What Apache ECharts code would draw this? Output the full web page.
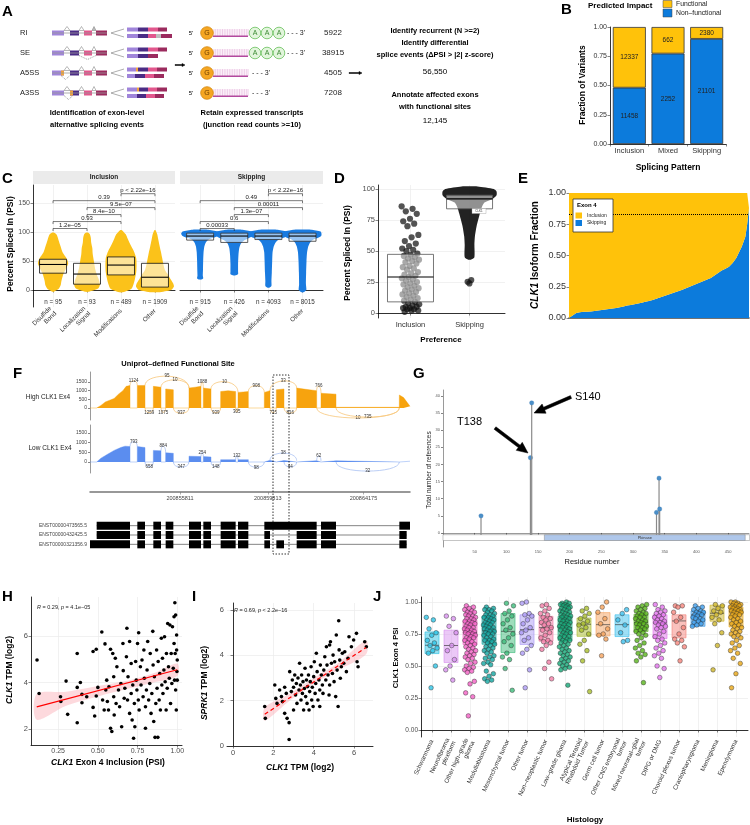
<!DOCTYPE html>
<html><head><meta charset="utf-8">
<script src="https://cdn.jsdelivr.net/npm/echarts@6.0.0/dist/echarts.min.js"></script>
<style>html,body{margin:0;padding:0;background:#fff}#c{width:750px;height:825px}</style>
</head><body><div id="c"></div>
<script>
// ================= DATA =================
// A
const eventTypes = ['RI','SE','A5SS','A3SS'];
const eventCounts = ['5922','38915','4505','7208'];
const recurrentTotal = '56,550';
const functionalTotal = '12,145';
// B
const patterns = ['Inclusion','Mixed','Skipping'];
const functionalCounts = [12337, 662, 2380];
const nonFunctionalCounts = [11458, 2252, 21101];
// C
const siteCats = ['Disulfide\nBond','Localization\nSignal','Modifications','Other'];
const inclN = [95, 93, 489, 1909];
const skipN = [915, 426, 4093, 8015];
const inclBox = [[29,44,53],[10,27.5,46],[26,43,57],[5,22,46]];
const skipBox = [[86,93,98],[82,93,98],[87,93,98],[84,93,98]];
const inclDensity = [
  [[-3,0.05],[2,0.3],[8,0.4],[17,0.45],[28,0.55],[38,0.7],[46,0.8],[55,0.7],[65,0.5],[75,0.4],[85,0.3],[95,0.2],[99,0.05]],
  [[-3,0.1],[3,0.6],[10,0.68],[18,0.62],[28,0.5],[38,0.42],[50,0.36],[62,0.3],[72,0.28],[82,0.22],[90,0.2],[96,0.15],[99,0.05]],
  [[-4,0.1],[2,0.55],[10,0.66],[20,0.74],[30,0.8],[42,0.82],[55,0.8],[68,0.66],[78,0.5],[88,0.36],[96,0.25],[103,0.05]],
  [[-4,0.2],[0,0.85],[6,1.0],[12,0.95],[20,0.8],[26,0.7],[35,0.52],[45,0.44],[55,0.38],[65,0.32],[75,0.25],[86,0.18],[96,0.12],[103,0.03]]
];
const skipDensity = [
  [[18,0.04],[20,0.16],[25,0.14],[35,0.15],[50,0.16],[65,0.18],[75,0.22],[82,0.3],[87,0.45],[90,0.7],[93,0.92],[97,1.0],[101,0.92],[104,0.4]],
  [[25,0.04],[27,0.2],[32,0.2],[45,0.2],[60,0.22],[72,0.26],[80,0.35],[85,0.5],[89,0.75],[93,0.95],[97,1.0],[101,0.92],[104,0.4]],
  [[4,0.04],[7,0.16],[15,0.16],[30,0.18],[50,0.2],[65,0.22],[75,0.28],[82,0.38],[87,0.55],[90,0.8],[93,0.98],[97,1.0],[101,0.95],[104,0.45]],
  [[-4,0.05],[0,0.2],[10,0.18],[30,0.19],[50,0.21],[65,0.24],[75,0.3],[82,0.4],[87,0.58],[90,0.82],[93,0.98],[97,1.0],[101,0.95],[104,0.45]]
];
const inclBrackets = [[1,2,'1.2e\u221205'],[1,3,'0.93'],[2,3,'8.4e\u221210'],[2,4,'9.5e\u221207'],[1,4,'0.39'],[3,4,'p < 2.22e\u221216']];
const skipBrackets = [[1,2,'0.00033'],[1,3,'0.6'],[2,3,'1.3e\u221207'],[2,4,'0.00011'],[1,4,'0.49'],[3,4,'p < 2.22e\u221216']];
const bracketLevels = [106, 118, 130, 142, 154, 166];
// D
const prefCats = ['Inclusion','Skipping'];
const dInclPSI = [86,84,82,80,76,74,72,70,63,61,58,56,54,52,51,50,48,47,46,45,44,43,42,41,40,38,37,36,35,33,32,31,30,29,28,27,26,25,24,23,22,21,20,19,18,17,16,15,14,13,12,11,10,9,8,7,6,5,5,4,4,3,3,2,2,1];
const dInclBox = [9, 29, 47.3];
const dSkipBox = [84, 92, 95];
const dSkipDensity = [[43,0.05],[45,0.18],[55,0.18],[62,0.2],[70,0.26],[76,0.33],[80,0.38],[85,0.45],[89,0.55],[92,0.85],[95,1.0],[98,1.0],[100,0.9],[102,0.3]];
const dSkipTail = [26.6, 23.9, 25.2];
// E
const eSkipFrac = [0,0.01,0.02,0.03,0.04,0.045,0.047,0.048,0.05,0.05,0.051,0.052,0.053,0.055,0.057,0.058,0.06,0.062,0.064,0.066,
  0.068,0.07,0.072,0.074,0.076,0.078,0.08,0.083,0.086,0.09,0.093,0.096,0.1,0.102,0.105,0.108,0.11,0.113,0.116,0.12,
  0.123,0.126,0.13,0.133,0.137,0.14,0.145,0.15,0.155,0.16,0.165,0.17,0.175,0.18,0.185,0.19,0.195,0.2,0.205,0.21,
  0.215,0.22,0.225,0.23,0.236,0.242,0.248,0.254,0.26,0.266,0.272,0.278,0.284,0.29,0.296,0.302,0.308,0.314,0.32,0.33,
  0.34,0.35,0.36,0.37,0.38,0.39,0.395,0.4,0.41,0.425,0.44,0.46,0.48,0.51,0.54,0.57,0.61,0.65,0.75,0.88];
const eThreshold = 0.83;
// F (genomic offsets from fBase)
const fBase = 200851707;
const fSpan = 14592;
const fTicks = [200855811, 200859813, 200864175];
const fHighCov = [[0,0],[304,0],[500,150],[700,350],[900,450],[1100,550],[1300,800],[1500,1000],[1650,1250],[1824,1300],[1825,0],[2157,0],[2158,1300],[2508,1300],[2509,0],[2887,0],[2888,1250],[3238,1200],[3239,0],[3449,0],[3450,1100],[3800,1050],[3801,0],[4513,0],[4514,1150],[4800,1200],[5062,1250],[5063,0],[5167,0],[5168,1150],[5518,1100],[5519,0],[5957,0],[5958,950],[6300,1000],[6642,950],[6643,0],[6748,0],[6749,900],[7220,950],[7221,0],[7949,0],[7950,900],[8208,1000],[8209,0],[8496,0],[8497,1050],[8846,1100],[8847,0],[9423,0],[9424,1150],[10000,1050],[10336,1000],[10337,0],[10533,0],[10534,850],[11218,800],[11219,40],[14105,40],[14106,750],[14300,600],[14592,100]];
const fLowCov = [[0,0],[304,0],[500,200],[800,400],[1100,600],[1400,750],[1600,820],[1824,800],[1825,0],[2157,0],[2158,800],[2508,750],[2509,0],[2887,0],[2888,600],[3238,580],[3239,0],[3449,0],[3450,480],[3800,450],[3801,0],[4513,0],[4514,300],[5062,280],[5063,0],[5167,0],[5168,280],[5518,260],[5519,0],[5957,0],[5958,120],[6642,120],[6643,0],[6748,0],[6749,120],[7220,120],[7221,0],[7949,0],[7950,90],[8208,90],[8209,0],[8496,0],[8497,80],[8846,80],[8847,0],[9423,0],[9424,70],[10336,70],[10337,0],[10533,0],[10534,60],[11218,60],[11219,0],[14105,0],[14106,50],[14592,40]];
const fHighJunctions = [[1824,2158,1124,1],[2508,4514,95,1],[3238,4514,10,1],[5062,5168,1088,1],[5518,6749,10,1],[7220,7950,908,1],[8208,9424,33,1],[10336,10534,766,1],
  [2508,2888,1259,-1],[3238,3450,1075,-1],[3800,4514,937,-1],[5518,5958,939,-1],[6642,6749,305,-1],[8208,8497,715,-1],[8846,9424,816,-1],[10336,14106,10,-1],[11218,14106,735,-1]];
const fLowJunctions = [[1824,2158,793,1],[2508,2888,658,-1],[3238,3450,884,1],[3800,4514,347,-1],[5062,5168,254,1],[5518,5958,148,-1],[6642,6749,132,1],[7220,7950,98,-1],[8208,9424,38,1],[8846,9424,44,-1],[10336,10534,62,1],[11218,14106,32,-1]];
const fTranscripts = ['ENST00000473565.5','ENST00000432425.5','ENST00000321356.9'];
const tx473565Exons = [[304,1824],[2158,2508],[2888,3238],[3450,3800],[4514,5062],[5168,5518],[5958,6642],[6749,7220],[7950,10336],[10534,11218],[14106,14592]];
const tx432425Exons = [[304,1824],[2158,2508],[2888,3238],[3450,3800],[4514,5062],[5168,5518],[5958,6642],[6749,7220],[7950,8208],[9424,10336],[10534,11218],[14106,14440]];
const tx321356Exons = [[0,1824],[2158,2508],[2888,3238],[3450,3800],[4514,5062],[5168,5518],[5958,6642],[6749,7220],[7950,8208],[8497,8846],[9424,10336],[10534,11218],[14106,14440]];
// G
const residues = [60, 138, 140, 337, 341, 342];
const refCounts = [5, 22, 38, 6, 16, 7];
const proteinLength = 484;
const kinaseDomain = [160, 477];
// H
const hPoints = [[0.117,4.97],[0.13,3.53],[0.265,3.39],[0.267,3.18],[0.30,4.06],[0.31,2.63],[0.37,5.25],[0.37,2.27],[0.37,3.79],[0.39,4.0],[0.40,3.49],[0.40,3.13],[0.43,3.39],[0.47,5.33],[0.47,2.93],[0.48,2.56],[0.49,5.43],[0.49,3.42],[0.50,3.79],[0.525,6.17],[0.53,3.25],[0.54,2.82],[0.545,5.66],[0.55,3.68],[0.556,4.1],[0.56,3.18],[0.567,2.82],[0.57,3.82],[0.58,5.43],[0.58,2.03],[0.588,1.89],[0.594,5.25],[0.6,3.39],[0.6,4.25],[0.603,2.6],[0.61,5.04],[0.615,3.1],[0.62,4.68],[0.63,3.68],[0.637,2.96],[0.645,3.96],[0.65,2.1],[0.658,5.68],[0.66,4.51],[0.666,3.32],[0.67,3.75],[0.68,5.11],[0.683,6.33],[0.687,3.25],[0.69,4.25],[0.70,2.67],[0.70,5.76],[0.71,3.53],[0.71,4.82],[0.716,2.39],[0.72,3.89],[0.725,1.6],[0.73,3.1],[0.733,2.1],[0.738,4.9],[0.742,4.1],[0.746,3.68],[0.75,5.68],[0.755,3.25],[0.757,6.14],[0.76,2.82],[0.768,4.68],[0.772,3.89],[0.778,4.97],[0.785,3.39],[0.79,5.4],[0.793,4.18],[0.8,2.96],[0.80,2.03],[0.806,3.68],[0.81,4.54],[0.814,5.76],[0.82,3.25],[0.827,3.96],[0.83,5.25],[0.835,2.67],[0.84,3.53],[0.846,6.2],[0.848,4.75],[0.852,2.32],[0.856,4.25],[0.86,1.64],[0.865,3.1],[0.87,5.4],[0.873,3.75],[0.878,1.64],[0.88,4.9],[0.886,3.25],[0.89,4.39],[0.894,2.82],[0.9,5.9],[0.903,3.89],[0.907,5.04],[0.91,3.53],[0.916,4.54],[0.92,5.97],[0.924,4.03],[0.93,2.82],[0.932,5.25],[0.937,3.75],[0.94,6.54],[0.945,4.68],[0.95,4.18],[0.954,6.47],[0.958,3.1],[0.962,5.25],[0.966,3.96],[0.97,6.4],[0.975,4.61],[0.98,5.68],[0.98,6.83],[0.983,4.1],[0.985,7.43],[0.987,5.25],[0.99,6.9],[0.99,3.68],[0.994,2.82],[0.996,6.04],[0.998,4.47],[1.0,4.97],[1.0,4.1],[0.996,5.4]];
const hFit = [[0.115,2.95],[1.0,4.55]];
const hCIx = [0.115,0.3,0.5,0.7,0.85,1.0];
const hCIlo = [2.4,3.0,3.4,3.75,4.0,4.28];
const hCIhi = [3.5,3.6,3.85,4.1,4.4,4.82];
// I
const iPoints = [[1.57,1.74],[1.6,1.22],[2.07,2.69],[2.12,2.1],[2.18,1.88],[2.31,2.47],[2.4,2.18],[2.45,1.96],[2.56,2.59],[2.56,1.44],[2.64,2.32],[2.68,1.22],[2.78,1.03],[2.78,0.29],[2.81,3.28],[2.89,2.4],[2.94,2.91],[3.0,2.59],[3.0,1.59],[3.06,3.13],[3.1,2.25],[3.14,2.76],[3.17,1.88],[3.22,3.0],[3.27,2.47],[3.3,3.65],[3.34,2.69],[3.37,2.03],[3.4,3.13],[3.44,2.32],[3.47,2.84],[3.5,1.59],[3.54,2.54],[3.57,3.43],[3.6,2.18],[3.64,2.91],[3.67,1.88],[3.7,2.62],[3.74,3.13],[3.77,1.59],[3.8,2.4],[3.83,2.84],[3.87,3.5],[3.9,2.03],[3.93,2.59],[3.97,1.74],[4.0,3.06],[4.03,3.72],[4.07,2.32],[4.1,2.76],[4.13,4.09],[4.17,3.28],[4.21,2.03],[4.26,2.91],[4.3,2.47],[4.3,1.74],[4.33,3.57],[4.38,3.13],[4.43,2.69],[4.46,2.32],[4.5,3.35],[4.55,3.94],[4.6,2.91],[4.63,4.38],[4.66,3.57],[4.71,3.13],[4.76,2.25],[4.79,2.69],[4.79,4.46],[4.83,4.6],[4.88,3.65],[4.93,3.2],[4.96,4.01],[5.01,2.84],[5.04,3.72],[5.09,2.18],[5.12,4.9],[5.16,3.35],[5.21,1.74],[5.24,5.53],[5.26,4.24],[5.29,3.79],[5.32,2.99],[5.37,3.5],[5.42,4.09],[5.49,3.65],[5.54,4.16],[5.62,3.28],[5.7,3.87],[5.75,4.82],[5.87,4.38],[5.98,4.68],[6.12,4.97],[6.15,3.72],[6.2,3.5],[6.53,4.6],[6.61,4.38]];
const iFit = [[1.57,1.4],[6.6,4.35]];
const iCIx = [1.57,2.8,4.0,5.2,6.6];
const iCIlo = [1.12,2.0,2.75,3.35,4.05];
const iCIhi = [1.7,2.3,3.0,3.65,4.65];
// J
const jCats = ['Schwannoma','Neurofibroma\nplexiform','Other high\u2013grade\nglioma','Medulloblastoma','Mesenchymal tumor','Other tumor','Non\u2013neoplastic tumor','Low\u2013grade glioma','Atypical Teratoid\nRhabdoid Tumor','Germ cell tumor','Other CNS embryonal\ntumor','Mixed neuronal\u2013glial\ntumor','DIPG or DMG','Choroid plexus tumor','Craniopharyngioma','Meningioma','Ependymoma'];
const jQ1 = [0.597,0.527,0.668,0.67,0.605,0.668,0.694,0.70,0.732,0.735,0.73,0.77,0.714,0.72,0.81,0.85,0.805];
const jMed = [0.662,0.66,0.761,0.774,0.771,0.784,0.80,0.80,0.826,0.823,0.823,0.84,0.836,0.852,0.90,0.912,0.927];
const jQ3 = [0.766,0.78,0.857,0.89,0.91,0.90,0.888,0.888,0.875,0.917,0.90,0.905,0.90,0.90,0.93,0.975,0.96];
const jColors = ['#2EC4E6','#D891EF','#F25FC4','#10A5A0','#3DBB7A','#AC9BF5','#F27DA6','#14A777','#A9BE2C','#F5A25D','#3EC1EE','#58B31A','#E274EC','#F6847C','#3C9CEB','#CDB52A','#E7A514'];
const jValues = [
  [0.88,0.86,0.79,0.76,0.74,0.70,0.68,0.66,0.64,0.62,0.60,0.50,0.33],
  [0.89,0.87,0.81,0.76,0.66,0.62,0.55,0.50,0.47,0.39],
  [0.97,0.96,0.95,0.94,0.93,0.92,0.92,0.91,0.90,0.89,0.89,0.88,0.87,0.87,0.86,0.85,0.85,0.84,0.83,0.83,0.82,0.81,0.80,0.80,0.79,0.78,0.78,0.77,0.76,0.76,0.75,0.75,0.74,0.73,0.72,0.72,0.71,0.70,0.69,0.68,0.67,0.66,0.65,0.64,0.63,0.62,0.61,0.60,0.59,0.58,0.57,0.56,0.55,0.53,0.52,0.50,0.49,0.48,0.47,0.46,0.45,0.38,0.36,0.29,0.26,0.11],
  [0.96,0.95,0.94,0.94,0.93,0.92,0.91,0.90,0.90,0.89,0.88,0.88,0.87,0.86,0.86,0.85,0.84,0.84,0.83,0.82,0.82,0.81,0.80,0.80,0.79,0.78,0.78,0.77,0.77,0.76,0.75,0.75,0.74,0.73,0.72,0.71,0.70,0.70,0.69,0.68,0.67,0.66,0.65,0.64,0.63,0.62,0.61,0.60,0.58,0.57,0.56,0.55,0.53,0.52,0.51,0.46,0.44,0.42,0.40,0.39,0.38],
  [0.99,0.97,0.93,0.91,0.89,0.86,0.83,0.80,0.78,0.75,0.72,0.69,0.66,0.60,0.57,0.55,0.48,0.31],
  [1.0,0.99,0.91,0.90,0.89,0.86,0.83,0.80,0.78,0.76,0.72,0.70,0.66,0.63,0.60,0.47,0.33],
  [0.98,0.97,0.95,0.93,0.91,0.90,0.88,0.87,0.86,0.84,0.83,0.82,0.80,0.79,0.78,0.76,0.74,0.72,0.70,0.69,0.68,0.66,0.63,0.53,0.48,0.40],
  [1.0,0.99,0.99,0.98,0.98,0.97,0.97,0.96,0.96,0.95,0.95,0.94,0.93,0.93,0.92,0.92,0.91,0.90,0.90,0.89,0.89,0.88,0.88,0.87,0.86,0.86,0.85,0.85,0.84,0.83,0.83,0.82,0.82,0.81,0.80,0.80,0.79,0.78,0.78,0.77,0.76,0.76,0.75,0.74,0.73,0.73,0.72,0.71,0.70,0.70,0.69,0.68,0.67,0.66,0.65,0.64,0.63,0.62,0.61,0.60,0.59,0.58,0.57,0.56,0.55,0.54,0.53,0.52,0.51,0.50,0.49,0.48,0.47,0.35],
  [0.95,0.93,0.91,0.89,0.87,0.85,0.83,0.82,0.80,0.78,0.75,0.70,0.67,0.62,0.54,0.30],
  [1.0,0.96,0.92,0.87,0.83,0.79,0.75,0.74,0.71,0.58],
  [0.94,0.91,0.86,0.82,0.76,0.70,0.69],
  [0.98,0.97,0.96,0.95,0.94,0.93,0.92,0.91,0.91,0.90,0.89,0.88,0.88,0.87,0.86,0.85,0.85,0.84,0.83,0.83,0.82,0.81,0.80,0.80,0.79,0.78,0.77,0.76,0.75,0.74,0.72,0.70,0.68,0.66,0.64,0.62,0.60,0.59,0.57,0.54,0.37],
  [0.98,0.96,0.94,0.93,0.92,0.91,0.90,0.89,0.88,0.87,0.86,0.85,0.84,0.84,0.83,0.82,0.81,0.80,0.79,0.77,0.75,0.73,0.71,0.70,0.68,0.66,0.64,0.62,0.60,0.58,0.56,0.50,0.48,0.41],
  [0.97,0.97,0.96,0.92,0.88,0.85,0.80,0.75,0.71,0.70,0.68,0.65,0.54],
  [0.97,0.96,0.95,0.94,0.93,0.92,0.92,0.91,0.90,0.90,0.89,0.88,0.87,0.87,0.86,0.85,0.84,0.83,0.82,0.81],
  [0.98,0.97,0.95,0.93,0.92,0.90,0.88,0.86,0.83,0.76,0.66,0.47],
  [1.0,1.0,0.99,0.99,0.98,0.98,0.97,0.97,0.96,0.96,0.95,0.95,0.94,0.94,0.93,0.93,0.92,0.92,0.91,0.90,0.90,0.89,0.88,0.87,0.86,0.85,0.84,0.83,0.82,0.81,0.80,0.79,0.78,0.77,0.76,0.75,0.74,0.73,0.72,0.70,0.68,0.66,0.64,0.62,0.60,0.56,0.52,0.44,0.33]
];

// ================= HELPERS =================
const F = 'Liberation Sans';
const YEL = '#FFC20A', BLUE = '#0C7BDC';
function rgba(hex, a){ const n=parseInt(hex.slice(1),16); return 'rgba('+(n>>16&255)+','+(n>>8&255)+','+(n&255)+','+a+')'; }
function jit(i){ return ((i*0.6180339887)%1)-0.5; }
function merge(a,b){ for(const k in b){ const v=b[k]; if(v && typeof v==='object' && !Array.isArray(v) && typeof v!=='function' && a[k] && typeof a[k]==='object' && !Array.isArray(a[k])) merge(a[k],v); else a[k]=v; } return a; }
function axis(type, gi, o){
  return merge({type:type, gridIndex:gi,
    axisLine:{show:false, lineStyle:{color:'#000', width:0.8}},
    axisTick:{show:false, length:2.5, lineStyle:{color:'#333', width:0.6}},
    axisLabel:{show:false, fontFamily:F, fontSize:7, color:'#4d4d4d', margin:3},
    splitLine:{show:false, lineStyle:{color:'#ebebeb', width:0.7}}}, o||{});
}
function cust(gi, data, render, extra){
  return Object.assign({type:'custom', coordinateSystem:'cartesian2d', xAxisIndex:gi, yAxisIndex:gi, data:data, renderItem:render, silent:true, clip:false, animation:false}, extra||{});
}
function tStyle(text, size, o){
  o=o||{}; const al=o.align||'center', va=o.va||'middle';
  const s={text:text, fontFamily:F, fontSize:size, fontWeight:o.bold?'bold':'normal', fontStyle:o.italic?'italic':'normal', fill:o.color||'#000', align:al, verticalAlign:va, textAlign:al, textVerticalAlign:va};
  if(o.rich) s.rich=o.rich; return s;
}
const gfx = [];
function T(x,y,text,size,o){ o=o||{}; gfx.push({type:'text', x:x, y:y, rotation:o.rot||0, silent:true, z:100, style:tStyle(text,size,o)}); }
function R(x,y,w,h,fill,st){ gfx.push({type:'rect', shape:{x:x,y:y,width:w,height:h}, silent:true, z:90, style:Object.assign({fill:fill},st||{})}); }
function L(x1,y1,x2,y2,st){ gfx.push({type:'line', shape:{x1:x1,y1:y1,x2:x2,y2:y2}, silent:true, z:91, style:Object.assign({stroke:'#000',lineWidth:1},st||{})}); }
function P(points,st,closed){ gfx.push({type:closed?'polygon':'polyline', shape:{points:points}, silent:true, z:91, style:Object.assign({stroke:'#000',lineWidth:1,fill:null},st||{})}); }
function Circ(cx,cy,r,st){ gfx.push({type:'circle', shape:{cx:cx,cy:cy,r:r}, silent:true, z:92, style:st}); }
function arrow(x1,y1,x2,y2,w,hl,hw,color){
  const dx=x2-x1, dy=y2-y1, len=Math.sqrt(dx*dx+dy*dy), ux=dx/len, uy=dy/len, px=-uy, py=ux;
  const bx=x2-ux*hl, by=y2-uy*hl;
  P([[x1+px*w/2,y1+py*w/2],[bx+px*w/2,by+py*w/2],[bx+px*hw/2,by+py*hw/2],[x2,y2],[bx-px*hw/2,by-py*hw/2],[bx-px*w/2,by-py*w/2],[x1-px*w/2,y1-py*w/2]],{fill:color,stroke:color,lineWidth:0.5},true);
}
function ital(size, bold){ return {i:{fontStyle:'italic', fontWeight:bold?'bold':'normal', fontSize:size, fontFamily:F, fill:'#000'}, n:{fontWeight:bold?'bold':'normal', fontSize:size, fontFamily:F, fill:'#000'}}; }

// ================= PANEL LETTERS =================
[['A',2,12],['B',561,10],['C',2,179],['D',334,179],['E',518,179],['F',13,374],['G',413,374],['H',2,597],['I',192,597],['J',373,597]].forEach(l=>T(l[1],l[2],l[0],15,{bold:true,align:'left'}));

// ================= PANEL A (schematic) =================
const EXC=['#A085DA','#4B2C85','#E2578D','#9B2B5E'], ORG='#F2A33A', GRY='#BDBDBD';
const rowY=[33,53,73,93];
eventTypes.forEach((ev,i)=>{
  const y=rowY[i];
  T(20,y,ev,7.5,{align:'left',color:'#222'});
  L(52,y,107,y,{stroke:'#999',lineWidth:0.8});
  [[52,64],[70,79],[84,92],[96,107]].forEach((e,k)=>R(e[0],y-2.5,e[1]-e[0],5,EXC[k]));
  if(ev==='A5SS') R(61,y-2.5,3,5,ORG);
  if(ev==='A3SS') R(70,y-2.5,3,5,ORG);
  [[64,70],[79,84],[92,96]].forEach(h=>P([[h[0],y-2.5],[(h[0]+h[1])/2,y-6.5],[h[1],y-2.5]],{stroke:'#888',lineWidth:0.6,fill:(ev==='RI'&&h[0]===92)?GRY:'#fff'},true));
  const dl={SE:[79,96],A5SS:[61,70],A3SS:[64,73]}[ev];
  if(dl) P([[dl[0],y+2.5],[(dl[0]+dl[1])/2,y+6.5],[dl[1],y+2.5]],{stroke:'#555',lineWidth:0.6,lineDash:[1,1]});
  L(111,y,124,y-4,{stroke:'#777',lineWidth:0.6}); L(111,y,124,y+4,{stroke:'#777',lineWidth:0.6});
  const prod={
    RI:[[[127,138,0],[138,148,1],[148,158,2],[158,167,3]],[[127,138,0],[138,148,1],[148,156,2],[156,161,'g'],[161,172,3]]],
    SE:[[[127,138,0],[138,148,1],[148,158,2],[158,167,3]],[[127,138,0],[138,148,1],[148,158,3]]],
    A5SS:[[[127,136,0],[136,138,'o'],[138,148,1],[148,157,2],[157,167,3]],[[127,135,0],[135,145,1],[145,154,2],[154,164,3]]],
    A3SS:[[[127,137,0],[137,139,'o'],[139,148,1],[148,157,2],[157,167,3]],[[127,137,0],[137,146,1],[146,155,2],[155,164,3]]]
  }[ev];
  prod.forEach((row,r)=>row.forEach(s=>R(s[0],y-5.5+r*6.5,s[1]-s[0],4,s[2]==='g'?GRY:(s[2]==='o'?ORG:EXC[s[2]]))));
  T(191,y+0.5,"5'",6,{});
  for(let x=214;x<248;x+=1.7) L(x,y-4,x,y+3,{stroke:'#E3A9D6',lineWidth:0.6});
  L(213,y+3.3,248,y+3.3,{stroke:'#B24A9E',lineWidth:1.6});
  Circ(207,y,6.3,{fill:'#F5A623',stroke:'#D4880F',lineWidth:0.8});
  T(207,y+0.5,'G',7,{color:'#6b3d00'});
  if(i<2){
    [255,267,279].forEach(cx=>{Circ(cx,y,5.8,{fill:'#E2F5DC',stroke:'#68C05C',lineWidth:0.8}); T(cx,y+0.5,'A',7,{color:'#3C8A34'});});
    T(287,y,"- - - 3'",7,{align:'left',color:'#222'});
  } else T(252,y,"- - - 3'",7,{align:'left',color:'#222'});
  T(333,y,eventCounts[i],8,{color:'#222'});
});
T(97,113,'Identification of exon-level',7.5,{bold:true});
T(97,125,'alternative splicing events',7.5,{bold:true});
arrow(175,65,185,65,0.8,3,3,'#000');
T(252,113,'Retain expressed transcripts',7.5,{bold:true});
T(252,125,'(junction read counts >=10)',7.5,{bold:true});
arrow(349,73,362,73,0.8,3,3,'#000');
T(435,31,'Identify recurrent (N >=2)',7.5,{bold:true});
T(435,43,'Identify differential',7.5,{bold:true});
T(435,55,'splice events (\u0394PSI > |2| z-score)',7.5,{bold:true});
T(435,72,recurrentTotal,8,{});
T(435,95,'Annotate affected exons',7.5,{bold:true});
T(435,107,'with functional sites',7.5,{bold:true});
T(435,121,functionalTotal,8,{});

// ================= PANEL extras =================
T(588,6,'Predicted Impact',8,{bold:true,align:'left'});
R(663,0.5,9,7,YEL,{stroke:'#444',lineWidth:0.5}); T(676,4.5,'Functional',6.8,{align:'left',color:'#222'});
R(663,9,9,8,BLUE,{stroke:'#444',lineWidth:0.5}); T(676,13.5,'Non\u2013functional',6.8,{align:'left',color:'#222'});
T(583,85,'Fraction of Variants',8.5,{bold:true,rot:Math.PI/2});
T(668,168,'Splicing Pattern',8.5,{bold:true});
R(33,171,142,13,'#EBEBEB'); T(104,177.5,'Inclusion',6.5,{bold:true,color:'#222'});
R(180,171,143,13,'#EBEBEB'); T(251.5,177.5,'Skipping',6.5,{bold:true,color:'#222'});
T(11,244,'Percent Spliced In (PSI)',8.5,{bold:true,rot:Math.PI/2});
T(178,364,'Uniprot\u2013defined Functional Site',7.5,{bold:true});
T(348,253,'Percent Spliced In (PSI)',8.5,{bold:true,rot:Math.PI/2});
T(441,340,'Preference',8,{bold:true});
R(472,208.5,14,5,'#fff',{stroke:'#999',lineWidth:0.4}); T(479,211,'CLK1',3,{color:'#333'});
T(535,255,'{i|CLK1} {n|Isoform Fraction}',10,{bold:true,rot:Math.PI/2,rich:ital(10,true)});
R(573,199,40,33,'#fff',{stroke:'#333',lineWidth:0.8});
T(577,205.5,'Exon 4',6,{bold:true,align:'left'});
R(575.5,212.5,6.5,6,YEL); T(587,215.5,'Inclusion',5,{align:'left',color:'#222'});
R(575.5,220,6.5,6,BLUE); T(587,223,'Skipping',5,{align:'left',color:'#222'});
T(48,397,'High CLK1 Ex4',6.5,{color:'#222'});
T(50,448,'Low CLK1 Ex4',6.5,{color:'#222'});
R(273,375,16,179,null,{stroke:'#000',lineWidth:0.8,lineDash:[1.5,1.5]});
T(429,470,'Total number of references',6.5,{rot:Math.PI/2,color:'#222'});
T(592,562,'Residue number',7.5,{color:'#111'});
T(457,422,'T138',11,{align:'left'});
T(575,397,'S140',11,{align:'left'});
arrow(495,428,528,453,3,11,10,'#000');
arrow(571,397,534,413,3,11,10,'#000');
const statRich={i:{fontStyle:'italic',fontSize:5.5,fontFamily:F,fill:'#222'},n:{fontSize:5.5,fontFamily:F,fill:'#222'}};
T(37,607,'{i|R} {n|= 0.29,} {i|p} {n|= 4.1e\u221205}',5.5,{align:'left',rich:statRich});
T(234,610,'{i|R} {n|= 0.69,} {i|p} {n|< 2.2e\u221216}',5.5,{align:'left',rich:statRich});
T(10,670,'{i|CLK1} {n|TPM (log2)}',8.5,{rot:Math.PI/2,rich:ital(8.5,true)});
T(108,763,'{i|CLK1} {n|Exon 4 Inclusion (PSI)}',8.5,{rich:ital(8.5,true)});
T(205,683,'{i|SPRK1} {n|TPM (log2)}',8.5,{rot:Math.PI/2,rich:ital(8.5,true)});
T(300,768,'{i|CLK1} {n|TPM (log2)}',8.5,{rich:ital(8.5,true)});
T(396,658,'CLK1 Exon 4 PSI',7.5,{bold:true,rot:Math.PI/2});
T(585,820,'Histology',8,{bold:true});

// ================= RENDERERS =================
function violinRender(profiles, maxHalf, color){
  return function(params, api){
    const prof=profiles[params.dataIndex], cx=api.value(0); const left=[], right=[];
    prof.forEach(pw=>{ const p=api.coord([cx,pw[0]]); left.push([p[0]-pw[1]*maxHalf,p[1]]); right.push([p[0]+pw[1]*maxHalf,p[1]]); });
    return {type:'polygon', shape:{points:left.concat(right.reverse()), smooth:0.2}, style:{fill:color}};
  };
}
function boxRender(boxes, halfW, stroke, fill){
  return function(params, api){
    const b=boxes[params.dataIndex], cx=api.value(0);
    const a=api.coord([cx,b[2]]), c=api.coord([cx,b[0]]), m=api.coord([cx,b[1]]);
    return {type:'group', children:[
      {type:'rect', shape:{x:a[0]-halfW,y:a[1],width:2*halfW,height:c[1]-a[1]}, style:{fill:fill,stroke:stroke,lineWidth:0.8}},
      {type:'line', shape:{x1:a[0]-halfW,y1:m[1],x2:a[0]+halfW,y2:m[1]}, style:{stroke:'#000',lineWidth:1.1}}]};
  };
}
function nRender(ns){
  return function(params, api){ const p=api.coord([api.value(0),api.value(1)]);
    return {type:'text', x:p[0], y:p[1], style:tStyle('n = '+ns[params.dataIndex],6.3,{color:'#333'})}; };
}
function bracketRender(br){
  return function(params, api){
    const b=br[params.dataIndex], lvl=bracketLevels[params.dataIndex];
    const p1=api.coord([b[0],lvl]), p2=api.coord([b[1],lvl]);
    return {type:'group', children:[
      {type:'polyline', shape:{points:[[p1[0],p1[1]+2.5],[p1[0],p1[1]],[p2[0],p2[1]],[p2[0],p2[1]+2.5]]}, style:{stroke:'#222',lineWidth:0.6,fill:null}},
      {type:'text', x:(p1[0]+p2[0])/2, y:p1[1]-0.3, style:tStyle(b[2],6,{va:'bottom',color:'#222'})}]};
  };
}
function covAt(prof, x){
  let best=-1; prof.forEach(p=>{ if(Math.abs(p[0]-x)<=1 && p[1]>best) best=p[1]; });
  if(best>=0) return best;
  for(let k=1;k<prof.length;k++){ if(prof[k][0]>=x){ const a=prof[k-1], b=prof[k]; return a[1]+(b[1]-a[1])*(x-a[0])/((b[0]-a[0])||1); } }
  return 0;
}
function arcRender(junctions, profile, color){
  return function(params, api){
    const j=junctions[params.dataIndex]; let p1,p2,apex;
    if(j[3]>0){ p1=api.coord([j[0],covAt(profile,j[0])]); p2=api.coord([j[1],covAt(profile,j[1])]);
      apex=Math.min(p1[1],p2[1])-(4+Math.min(Math.abs(p2[0]-p1[0])*0.12,10)); }
    else { p1=api.coord([j[0],0]); p2=api.coord([j[1],0]); apex=p1[1]+(4+Math.min(Math.abs(p2[0]-p1[0])*0.08,6)); }
    const c=(8*apex-p1[1]-p2[1])/6;
    return {type:'group', children:[
      {type:'bezierCurve', shape:{x1:p1[0],y1:p1[1],x2:p2[0],y2:p2[1],cpx1:p1[0],cpy1:c,cpx2:p2[0],cpy2:c}, style:{stroke:color,lineWidth:0.8,fill:null}},
      {type:'text', x:(p1[0]+p2[0])/2, y:apex, style:tStyle(String(j[2]),4.5,{color:'#333'})}]};
  };
}
function ribbonRender(xs, lo, hi, fill){
  return function(params, api){
    const up=xs.map((x,k)=>api.coord([x,hi[k]])), dn=xs.map((x,k)=>api.coord([x,lo[k]])).reverse();
    return {type:'polygon', shape:{points:up.concat(dn), smooth:0.3}, style:{fill:fill}};
  };
}

// ================= DERIVED SERIES DATA =================
const txExons=[tx473565Exons,tx432425Exons,tx321356Exons];
const exonItems=[]; txExons.forEach((ex,t)=>ex.forEach(e=>exonItems.push([e[0],t,e[1]])));
const intronItems=txExons.map((ex,t)=>[ex[0][0],t,ex[ex.length-1][1]]);
const dInclPts=dInclPSI.map((v,i)=>[1+jit(i)*0.3, v]);
const dTailPts=dSkipTail.map((v,i)=>[2+jit(i+3)*0.08, v]);
const jPts=[]; jValues.forEach((vals,ci)=>vals.forEach((v,k)=>jPts.push({value:[ci+1+jit(k+ci*5)*0.6, v], itemStyle:{color:rgba(jColors[ci],0.8)}})));

// ================= OPTION =================
const grid=[
 {left:610,top:27,width:116,height:117},
 {left:33,top:185,width:142,height:122},
 {left:180,top:185,width:143,height:122},
 {left:378,top:185,width:127,height:133},
 {left:569,top:193,width:180,height:125},
 {left:90,top:372,width:320,height:48},
 {left:90,top:425,width:320,height:48},
 {left:90,top:480,width:320,height:12},
 {left:90,top:521,width:320,height:28},
 {left:443,top:390,width:306,height:157},
 {left:31,top:597,width:151,height:148},
 {left:227,top:603,width:146,height:143},
 {left:421,top:597,width:327,height:140}
];
const c4=[1,2,3,4];
const fTickOff=fTicks.map(t=>t-fBase);
const plain=v=>String(v);
const xAxis=[
 axis('category',0,{data:patterns, axisLine:{show:true}, axisTick:{show:true}, axisLabel:{show:true,fontSize:7.5,color:'#333'}}),
 axis('value',1,{min:0.41,max:4.59, axisLine:{show:true}, axisTick:{show:true,customValues:c4}, axisLabel:{show:true,customValues:c4,rotate:45,fontSize:6.3,lineHeight:7,color:'#333',formatter:v=>siteCats[Math.round(v)-1]}, splitLine:{show:true}}),
 axis('value',2,{min:0.41,max:4.6, axisLine:{show:true}, axisTick:{show:true,customValues:c4}, axisLabel:{show:true,customValues:c4,rotate:45,fontSize:6.3,lineHeight:7,color:'#333',formatter:v=>siteCats[Math.round(v)-1]}, splitLine:{show:true}}),
 axis('value',3,{min:0.45,max:2.6, axisLine:{show:true}, axisTick:{show:true,customValues:[1,2]}, axisLabel:{show:true,customValues:[1,2],fontSize:7.5,color:'#333',formatter:v=>prefCats[Math.round(v)-1]}, splitLine:{show:true}}),
 axis('category',4,{data:eSkipFrac.map((_,i)=>i), boundaryGap:false, axisLine:{show:true,lineStyle:{color:'#444',width:1.5}}}),
 axis('value',5,{min:0,max:fSpan}),
 axis('value',6,{min:0,max:fSpan}),
 axis('value',7,{min:0,max:fSpan, axisLine:{show:true,lineStyle:{color:'#777',width:1.5}}, axisTick:{show:true,customValues:fTickOff,lineStyle:{color:'#777'}}, axisLabel:{show:true,customValues:fTickOff,fontSize:5.5,color:'#444',formatter:v=>String(Math.round(v)+fBase)}}),
 axis('value',8,{min:0,max:fSpan}),
 axis('value',9,{min:0,max:483, axisLine:{show:true,lineStyle:{color:'#555',width:0.6}}, axisTick:{show:true,customValues:[50,100,150,200,250,300,350,400,450],length:2}, axisLabel:{show:true,customValues:[50,100,150,200,250,300,350,400,450],fontSize:4,color:'#555'}}),
 axis('value',10,{min:0.079,max:1.03, axisLine:{show:true}, axisTick:{show:true,customValues:[0.25,0.5,0.75,1]}, axisLabel:{show:true,customValues:[0.25,0.5,0.75,1],fontSize:7,formatter:v=>v.toFixed(2)}, splitLine:{show:true}}),
 axis('value',11,{min:-0.3,max:6.94, axisLine:{show:true}, axisTick:{show:true,customValues:[0,2,4,6]}, axisLabel:{show:true,customValues:[0,2,4,6],fontSize:7.5}, splitLine:{show:true}}),
 axis('value',12,{min:0.42,max:17.63, axisLine:{show:true}, axisTick:{show:true,customValues:jCats.map((_,i)=>i+1)}, axisLabel:{show:true,customValues:jCats.map((_,i)=>i+1),rotate:65,fontSize:6.3,lineHeight:7,color:'#333',formatter:v=>jCats[Math.round(v)-1]}, splitLine:{show:true}})
];
const yAxis=[
 axis('value',0,{min:0,max:1,interval:0.25, axisLine:{show:true}, axisTick:{show:true}, axisLabel:{show:true,fontSize:7,color:'#333',formatter:v=>v.toFixed(2)}}),
 axis('value',1,{min:-29.3,max:181, axisLine:{show:true}, axisTick:{show:true,customValues:[0,50,100,150]}, axisLabel:{show:true,customValues:[0,50,100,150],fontSize:7}, splitLine:{show:true}}),
 axis('value',2,{min:-29.3,max:181, axisTick:{show:false,customValues:[0,50,100,150]}, axisLabel:{show:false,customValues:[0,50,100,150]}, splitLine:{show:true}}),
 axis('value',3,{min:-4,max:103.2, axisLine:{show:true}, axisTick:{show:true,customValues:[0,25,50,75,100]}, axisLabel:{show:true,customValues:[0,25,50,75,100],fontSize:7.5}, splitLine:{show:true}}),
 axis('value',4,{min:0,max:1,interval:0.25, axisTick:{show:true}, axisLabel:{show:true,fontSize:9,color:'#333',formatter:v=>v.toFixed(2)}}),
 axis('value',5,{min:-692,max:2077, axisLine:{show:true,lineStyle:{color:'#555',width:0.6}}, axisTick:{show:true,customValues:[0,500,1000,1500],length:2}, axisLabel:{show:true,customValues:[0,500,1000,1500],fontSize:5,color:'#444',formatter:plain}}),
 axis('value',6,{min:-569,max:1914, axisLine:{show:true,lineStyle:{color:'#555',width:0.6}}, axisTick:{show:true,customValues:[0,500,1000,1500],length:2}, axisLabel:{show:true,customValues:[0,500,1000,1500],fontSize:5,color:'#444',formatter:plain}}),
 axis('value',7,{min:0,max:1}),
 axis('category',8,{data:fTranscripts, inverse:true, axisLabel:{show:true,fontSize:5,color:'#444'}}),
 axis('value',9,{min:-4.1,max:41.75, axisLine:{show:true,lineStyle:{color:'#555',width:0.6}}, axisTick:{show:true,customValues:[0,5,10,15,20,25,30,35,40],length:2}, axisLabel:{show:true,customValues:[0,5,10,15,20,25,30,35,40],fontSize:4,color:'#555'}}),
 axis('value',10,{min:1.312,max:7.677, axisLine:{show:true}, axisTick:{show:true,customValues:[2,4,6]}, axisLabel:{show:true,customValues:[2,4,6],fontSize:7.5}, splitLine:{show:true}}),
 axis('value',11,{min:0,max:6.31, axisLine:{show:true}, axisTick:{show:true,customValues:[0,2,4,6]}, axisLabel:{show:true,customValues:[0,2,4,6],fontSize:7.5}, splitLine:{show:true}}),
 axis('value',12,{min:-0.0547,max:1.039, axisLine:{show:true}, axisTick:{show:true,customValues:[0,0.25,0.5,0.75,1]}, axisLabel:{show:true,customValues:[0,0.25,0.5,0.75,1],fontSize:6.5,formatter:v=>v.toFixed(2)}, splitLine:{show:true}})
];
const lbl={show:true,position:'inside',fontSize:6.5,color:'#222',fontFamily:F};
const series=[
 // B
 {type:'bar',xAxisIndex:0,yAxisIndex:0,stack:'b',barWidth:33,data:nonFunctionalCounts.map((v,i)=>({value:v/(v+functionalCounts[i]),label:{formatter:String(v)}})),itemStyle:{color:BLUE,borderColor:'#333',borderWidth:0.8},label:lbl},
 {type:'bar',xAxisIndex:0,yAxisIndex:0,stack:'b',barWidth:33,data:functionalCounts.map((v,i)=>({value:v/(v+nonFunctionalCounts[i]),label:{formatter:String(v)}})),itemStyle:{color:YEL,borderColor:'#333',borderWidth:0.8},label:lbl},
 // C
 cust(1,c4.map(c=>[c,0]),violinRender(inclDensity,19,'#FBC21A'),{z:2}),
 cust(1,c4.map(c=>[c,0]),boxRender(inclBox,13.5,'#111','rgba(255,255,255,0.55)'),{z:3}),
 cust(1,c4.map(c=>[c,-21]),nRender(inclN),{z:3}),
 cust(1,inclBrackets.map((b,i)=>[b[0],bracketLevels[i]]),bracketRender(inclBrackets),{z:3}),
 cust(2,c4.map(c=>[c,0]),violinRender(skipDensity,19,'#1A7BE0'),{z:2}),
 cust(2,c4.map(c=>[c,0]),boxRender(skipBox,13.5,'#333','rgba(255,255,255,0.55)'),{z:3}),
 cust(2,c4.map(c=>[c,-21]),nRender(skipN),{z:3}),
 cust(2,skipBrackets.map((b,i)=>[b[0],bracketLevels[i]]),bracketRender(skipBrackets),{z:3}),
 // D
 {type:'scatter',xAxisIndex:3,yAxisIndex:3,data:dInclPts,symbolSize:6.2,itemStyle:{color:'#111',opacity:0.72},z:2,silent:true},
 cust(3,[[2,0]],violinRender([dSkipDensity],27,'rgba(10,10,10,0.9)'),{z:2}),
 {type:'scatter',xAxisIndex:3,yAxisIndex:3,data:dTailPts,symbolSize:6.2,itemStyle:{color:'#111',opacity:0.72},z:2,silent:true},
 cust(3,[[1,0]],boxRender([dInclBox],23,'#555','rgba(255,255,255,0.5)'),{z:3}),
 cust(3,[[2,0]],boxRender([dSkipBox],23,'#555','rgba(255,255,255,0.5)'),{z:3}),
 // E
 {type:'line',xAxisIndex:4,yAxisIndex:4,stack:'e',data:eSkipFrac,symbol:'none',lineStyle:{width:0},areaStyle:{color:BLUE,opacity:1},silent:true},
 {type:'line',xAxisIndex:4,yAxisIndex:4,stack:'e',data:eSkipFrac.map(v=>1-v),symbol:'none',lineStyle:{width:0},areaStyle:{color:YEL,opacity:1},silent:true,
  markLine:{silent:true,symbol:'none',label:{show:false},lineStyle:{type:'dotted',color:'#000',width:1},data:[{yAxis:eThreshold}]}},
 // F
 {type:'line',xAxisIndex:5,yAxisIndex:5,data:fHighCov,symbol:'none',lineStyle:{width:0.4,color:'#F5A000'},areaStyle:{color:'#F7A30E',opacity:1},silent:true},
 cust(5,fHighJunctions.map(j=>[j[0],0]),arcRender(fHighJunctions,fHighCov,'#F8C77A'),{z:3}),
 {type:'line',xAxisIndex:6,yAxisIndex:6,data:fLowCov,symbol:'none',lineStyle:{width:0.4,color:'#5B8DEF'},areaStyle:{color:'#5B8DEF',opacity:1},silent:true},
 cust(6,fLowJunctions.map(j=>[j[0],0]),arcRender(fLowJunctions,fLowCov,'#A9C2F2'),{z:3}),
 cust(8,intronItems,function(params,api){ const a=api.coord([api.value(0),api.value(1)]), b=api.coord([api.value(2),api.value(1)]); return {type:'line',shape:{x1:a[0],y1:a[1],x2:b[0],y2:b[1]},style:{stroke:'#333',lineWidth:0.6}}; },{z:2}),
 cust(8,exonItems,function(params,api){ const a=api.coord([api.value(0),api.value(1)]), b=api.coord([api.value(2),api.value(1)]); return {type:'rect',shape:{x:a[0],y:a[1]-4,width:b[0]-a[0],height:8},style:{fill:'#000'}}; },{z:3}),
 // G
 cust(9,[[0,proteinLength],[kinaseDomain[0],kinaseDomain[1]]],function(params,api){ const a=api.coord([api.value(0),-0.5]), b=api.coord([api.value(1),-2.2]); const k=params.dataIndex===1;
   const ch=[{type:'rect',shape:{x:a[0],y:a[1],width:b[0]-a[0],height:b[1]-a[1]},style:{fill:k?'#AFC7EA':'#fff',stroke:'#888',lineWidth:0.5}}];
   if(k) ch.push({type:'text',x:(a[0]+b[0])/2,y:(a[1]+b[1])/2,style:tStyle('Pkinase',4,{color:'#333'})});
   return {type:'group',children:ch}; },{z:2}),
 cust(9,residues.map((r,i)=>[r,refCounts[i]]),function(params,api){ const x=api.value(0), y=api.value(1); const p0=api.coord([x,0]), p1=api.coord([x,y]);
   return {type:'group',children:[{type:'line',shape:{x1:p0[0],y1:p0[1]+2,x2:p1[0],y2:p1[1]},style:{stroke:'#8a8a8a',lineWidth:1.2}},{type:'circle',shape:{cx:p1[0],cy:p1[1],r:2.2},style:{fill:'#4A8FC8',stroke:'#3a78b0',lineWidth:0.3}}]}; },{z:3}),
 // H
 cust(10,[[0,0]],ribbonRender(hCIx,hCIlo,hCIhi,'rgba(250,170,180,0.45)'),{z:2}),
 {type:'scatter',xAxisIndex:10,yAxisIndex:10,data:hPoints,symbolSize:3.6,itemStyle:{color:'#000',opacity:1},z:3,silent:true},
 {type:'line',xAxisIndex:10,yAxisIndex:10,data:hFit,symbol:'none',lineStyle:{color:'#F00',width:1.2},z:4,silent:true},
 // I
 cust(11,[[0,0]],ribbonRender(iCIx,iCIlo,iCIhi,'rgba(250,170,180,0.45)'),{z:2}),
 {type:'scatter',xAxisIndex:11,yAxisIndex:11,data:iPoints,symbolSize:3.6,itemStyle:{color:'#000',opacity:1},z:3,silent:true},
 {type:'line',xAxisIndex:11,yAxisIndex:11,data:iFit,symbol:'none',lineStyle:{color:'#F00',width:1.2,type:[4,3]},z:4,silent:true},
 // J
 cust(12,jCats.map((_,i)=>[i+1,0]),function(params,api){ const i=params.dataIndex, cx=api.value(0);
   const a=api.coord([cx,jQ3[i]]), c=api.coord([cx,jQ1[i]]), m=api.coord([cx,jMed[i]]); const hw=7;
   return {type:'group',children:[{type:'rect',shape:{x:a[0]-hw,y:a[1],width:2*hw,height:c[1]-a[1]},style:{fill:rgba(jColors[i],0.5),stroke:rgba(jColors[i],0.9),lineWidth:0.7}},
     {type:'line',shape:{x1:a[0]-hw,y1:m[1],x2:a[0]+hw,y2:m[1]},style:{stroke:'rgba(60,60,60,0.75)',lineWidth:0.9}}]}; },{z:2}),
 {type:'scatter',xAxisIndex:12,yAxisIndex:12,data:jPts,symbolSize:4.6,itemStyle:{borderColor:'rgba(40,40,40,0.85)',borderWidth:0.5,opacity:1},z:3,silent:true}
];
const chart=echarts.init(document.getElementById('c'),null,{renderer:'canvas'});
chart.setOption({animation:false, backgroundColor:'#fff', textStyle:{fontFamily:F}, grid:grid, xAxis:xAxis, yAxis:yAxis, series:series, graphic:{elements:gfx}});
</script></body></html>
